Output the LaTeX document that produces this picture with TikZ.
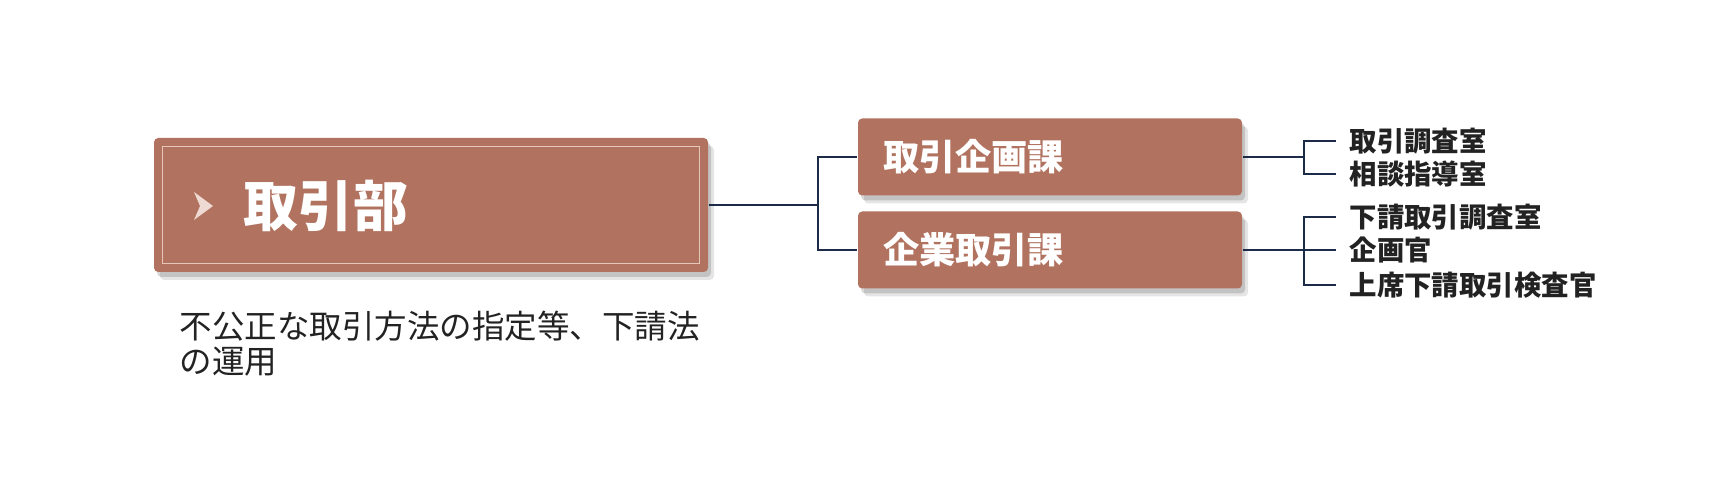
\documentclass[tikz,border=0pt]{standalone}
\usepackage{fontspec}
\setmainfont{Noto Sans CJK JP}
\usepackage{xcolor}
\definecolor{BureauBrown}{HTML}{B1735F}
\definecolor{BureauEdge}{HTML}{E6C6B8}
\definecolor{BureauMark}{HTML}{EEDAD3}
\definecolor{LinkNavy}{HTML}{1C2B48}
\definecolor{TextDark}{HTML}{222222}
\usetikzlibrary{shadows, positioning}

\tikzset{
  boxshadow/.style={
    drop shadow={shadow xshift=0.6mm, shadow yshift=-0.8mm, opacity=0.10, fill=black},
    drop shadow={shadow xshift=0.3mm, shadow yshift=-0.5mm, opacity=0.15, fill=black}},
  mainbox/.style={fill=BureauBrown, rounded corners=1.2pt, boxshadow,
    minimum width=55.4mm, minimum height=13.4mm, inner sep=0pt},
  bureautitle/.style={text=white, inner sep=0pt,
    font=\fontsize{15.6pt}{18pt}\selectfont\bfseries},
  divbox/.style={fill=BureauBrown, rounded corners=1.2pt, boxshadow,
    minimum width=38.4mm, minimum height=7.7mm, text width=33.4mm, align=left,
    inner sep=0pt, text=white, font=\fontsize{10.3pt}{12pt}\selectfont\bfseries},
  office/.style={anchor=west, inner ysep=0pt, inner xsep=1.3mm, text=TextDark,
    font=\fontsize{7.8pt}{9pt}\selectfont\bfseries},
  duty/.style={anchor=north west, inner sep=0pt, align=left, text=TextDark,
    font=\fontsize{9.25pt}{9.96pt}\selectfont},
  link/.style={draw=LinkNavy, line width=0.55pt},
  chevron/.style={fill=BureauMark}
}

\begin{document}
\begin{tikzpicture}[x=0.1mm, y=-0.1mm]
  \useasboundingbox (0,0) rectangle (1720,497);

  % bureau
  \node[mainbox] (bureau) at (431,205) {};
  \draw[BureauEdge, line width=0.4pt]
    ([shift={(9,9)}]bureau.north west) rectangle ([shift={(-9,-9)}]bureau.south east);
  \fill[chevron] (194,192) -- (213,206) -- (194,220) -- (200,206) -- cycle;
  \node[bureautitle, anchor=west] (title) at (243,206) {取引部};
  \node[duty] (duties) at (179,310) {不公正な取引方法の指定等、下請法\\の運用};

  % divisions
  \node[divbox] (plan) at (1050,157) {取引企画課};
  \node[divbox] (corp) at (1050,250) {企業取引課};

  % offices
  \node[office] (o1) at (1336,141) {取引調査室};
  \node[office] (o2) at (1336,174) {相談指導室};
  \node[office] (o3) at (1336,217) {下請取引調査室};
  \node[office] (o4) at (1336,250) {企画官};
  \node[office] (o5) at (1336,285) {上席下請取引検査官};

  % connectors
  \draw[link] (bureau.east) -- ++(109,0) coordinate (fork);
  \draw[link] (fork) |- (plan.west);
  \draw[link] (fork) |- (corp.west);

  \draw[link] (plan.east) -- ++(61,0) coordinate (forkA);
  \draw[link] (forkA) |- (o1.west);
  \draw[link] (forkA) |- (o2.west);

  \draw[link] (corp.east) -- ++(61,0) coordinate (forkB);
  \draw[link] (forkB) |- (o3.west);
  \draw[link] (forkB) |- (o4.west);
  \draw[link] (forkB) |- (o5.west);
\end{tikzpicture}
\end{document}
